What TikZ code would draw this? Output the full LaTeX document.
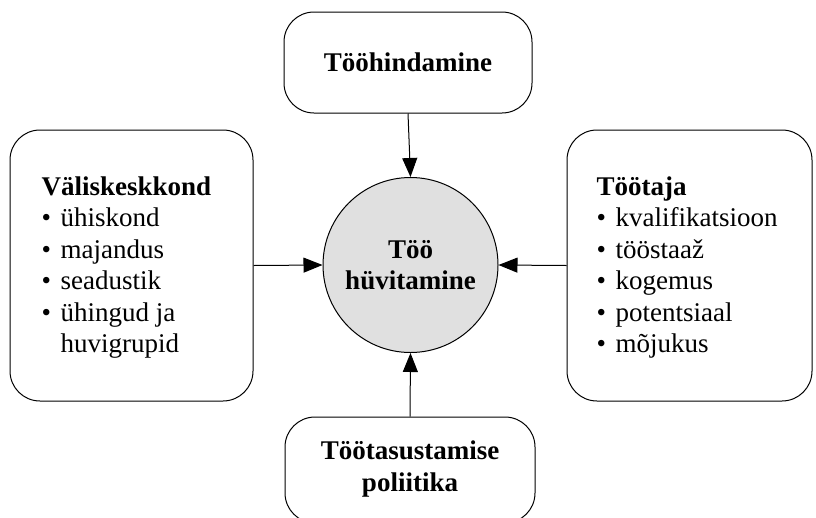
\documentclass[tikz,border=0pt]{standalone}
\usepackage{fontspec}
\setmainfont{Liberation Serif}
\usetikzlibrary{arrows.meta}
\definecolor{hubfill}{RGB}{224,224,224}
\newcommand\bul[1]{\makebox[19pt][l]{\textbullet}#1}
\begin{document}
\begin{tikzpicture}[x=1pt,y=-1pt,
  txt/.style={font=\fontsize{27}{31.5}\selectfont, inner sep=0pt},
  roundbox/.style={draw, line width=1pt, rounded corners=30pt, inner sep=0pt},
  hub/.style={draw, circle, line width=1pt, fill=hubfill, minimum size=175pt, inner sep=0pt,
              font=\fontsize{27}{31.5}\selectfont\bfseries, align=center},
  feed/.style={draw, line width=1pt, -{Triangle[length=19pt,width=15pt]}}]
\useasboundingbox (0,0) rectangle (816,517);

% central circle
\node[hub] (hub) at (410.5,265) {Töö\\hüvitamine};

% surrounding boxes
\node[roundbox, minimum width=248pt, minimum height=101pt] (top) at (408,62.5) {};
\node[roundbox, minimum width=250pt, minimum height=106pt] (bot) at (410,470) {};
\node[roundbox, minimum width=243pt, minimum height=271pt] (left) at (131.5,265.5) {};
\node[roundbox, minimum width=245pt, minimum height=271pt] (right) at (689.5,265.5) {};

% box texts
\node[txt, font=\fontsize{27}{31.5}\selectfont\bfseries] (toptext) at (top.center) {Tööhindamine};
\node[txt, font=\fontsize{27}{31.5}\selectfont\bfseries, align=center] (bottext) at ([yshift=1pt]bot.center) {Töötasustamise\\poliitika};
\node[txt, align=left, anchor=west] (lefttext) at ([xshift=32pt,yshift=-2pt]left.west)
  {\textbf{Väliskeskkond}\\
   \bul{ühiskond}\\
   \bul{majandus}\\
   \bul{seadustik}\\
   \bul{ühingud ja}\\
   \hspace*{19pt}huvigrupid};
\node[txt, align=left, anchor=west] (righttext) at ([xshift=30pt,yshift=-2pt]right.west)
  {\textbf{Töötaja}\\
   \bul{kvalifikatsioon}\\
   \bul{tööstaaž}\\
   \bul{kogemus}\\
   \bul{potentsiaal}\\
   \bul{mõjukus}};

% connectors into the circle
\draw[feed] (top.south) -- (hub.north);
\draw[feed] (bot.north) -- (hub.south);
\draw[feed] (left.east) -- (hub.west);
\draw[feed] (right.west) -- (hub.east);
\end{tikzpicture}
\end{document}
